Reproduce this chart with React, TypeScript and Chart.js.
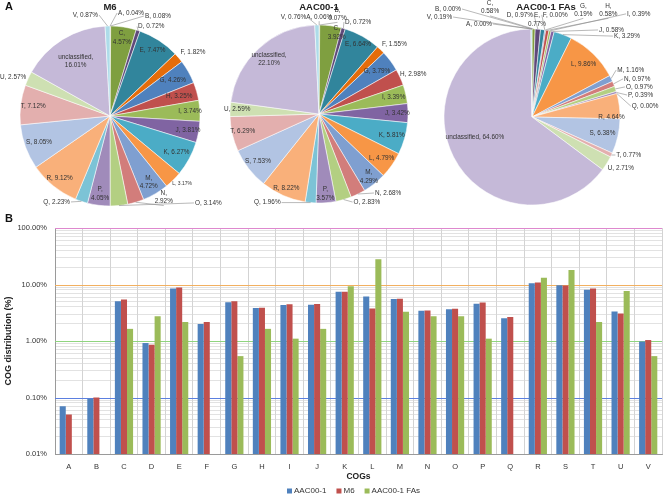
import React, { useEffect, useRef } from 'react';
import { Chart, registerables } from 'chart.js';

Chart.register(...registerables);

const FONT = '"Liberation Sans", Arial, sans-serif';

// ---------- Data ----------
const pieLabels = ['A','B','C','D','E','F','G','H','I','J','K','L','M','N','O','P','Q','R','S','T','U','unclassified','V'];
const m6Pie = [0.04,0.08,4.57,0.72,7.47,1.82,4.26,3.25,3.74,3.81,6.27,3.17,4.72,2.92,3.14,4.05,2.23,9.12,8.05,7.12,2.57,16.01,0.87];
const aacPie = [0.06,0.07,3.92,0.72,6.64,1.55,3.79,2.98,3.39,3.42,5.81,4.79,4.29,2.68,2.83,3.57,1.96,8.22,7.53,6.29,2.59,22.10,0.76];
const fasPie = [0.00,0.00,0.58,0.97,0.77,0.00,0.19,0.58,0.39,0.58,3.29,9.86,1.16,0.97,0.97,0.39,0.00,4.64,6.38,0.77,2.71,64.60,0.19];

const cogCategories = ['A','B','C','D','E','F','G','H','I','J','K','L','M','N','O','P','Q','R','S','T','U','V'];
const aacBar = [0.07,0.095,5.03,0.92,8.52,1.99,4.87,3.83,4.35,4.39,7.46,6.15,5.51,3.44,3.63,4.58,2.52,10.55,9.67,8.07,3.32,0.98];
const m6Bar = [0.05,0.10,5.44,0.86,8.89,2.17,5.07,3.87,4.45,4.54,7.47,3.77,5.62,3.48,3.74,4.82,2.66,10.86,9.58,8.48,3.06,1.04];
const fasBar = [null,null,1.64,2.74,2.18,null,0.54,1.64,1.10,1.64,9.29,27.85,3.28,2.74,2.74,1.10,null,13.11,18.02,2.18,7.66,0.54];
const yMajorTicks = [0.01, 0.1, 1, 10, 100];
const seriesNames = ['AAC00-1', 'M6', 'AAC00-1 FAs'];

// ---------- Styles ----------
const pieColors = [
  '#3A6199','#943C3A','#7F9F40','#5F497A','#31859C','#E46C0A',
  '#4F81BD','#C0504D','#9BBB59','#8064A2','#4BACC6','#F79646',
  '#7F9FD0','#D27D7B','#B3CF82','#A08BBA','#7CC3D6','#F9B07A',
  '#B2C4E3','#E3AFAE','#CEE0B2','#C5B9D8','#ADDCE9'
];
const seriesColors = ['#4F81BD', '#C0504D', '#9BBB59'];
const majorGridColors = ['#A0A0A0', '#5B7FE0', '#8FD47F', '#F2B060', '#DE88CE'];

// label layout: [radiusFactor, dx, dy, align, leader, twoLines, fontSize]
const m6Specs = [
  [1, 8, -13, 'l', true], [1, 34.5, -10, 'l', true], [0.88, 0, 0, 'c', false, true], [1, 0, -4, 'l', true],
  [0.87, 0, 0, 'c', false], [1, 2, -5, 'l', false], [0.8, 0, 0, 'c', false], [0.8, 0, 0, 'c', false],
  [0.89, 0, 0, 'c', false], [0.88, 0, 0, 'c', false], [0.84, 0, 0, 'c', false], [1, -1, 4, 'l', false, false, 5],
  [0.85, 0, 0, 'c', false, true], [1, 28, -5, 'c', true, true], [1, 76, -2.6, 'l', true], [0.87, 0, 0, 'c', false, true],
  [1, -11.4, 0.6, 'r', true], [0.89, 0, 0, 'c', false], [0.84, 0, 0, 'c', false], [0.86, 0, 0, 'c', false],
  [1, -2, -1.5, 'r', false], [0.72, 0, 0, 'c', false, true], [1, -9.5, -11, 'r', true]
];
const aacSpecs = [
  [1, 0, -8, 'c', true], [1, 18, -11, 'c', true, true], [0.92, 7, 0, 'c', false, true], [1, 1.6, -6.4, 'l', true],
  [0.9, 0, 0, 'c', false], [1, 1.3, -6, 'l', false], [0.81, 0, 0, 'c', false], [1, 0, -3.4, 'l', false],
  [0.86, 0, 0, 'c', false], [0.88, 0, 0, 'c', false], [0.85, 0, 0, 'c', false], [0.86, 0, 0, 'c', false],
  [0.9, 0, 0, 'c', false, true], [1, 17, -1, 'l', true], [1, 10, 2.5, 'l', true], [0.9, 0, 0, 'c', false, true],
  [1, -30, 0, 'r', true], [0.91, 0, 0, 'c', false], [0.87, 0, 0, 'c', false], [0.88, 0, 0, 'c', false],
  [0.92, 0, 0, 'c', false], [0.83, 0, 0, 'c', false, true], [1, -10.7, -8, 'r', true]
];
const fasSpecs = [
  [1, -40, -5, 'r', true], [1, -71, -20, 'r', true], [1, -43.6, -21.5, 'c', true, true], [1, -4.9, -14, 'r', true],
  [1, -5.7, -10, 'c', false, true], [1, -2, -15, 'l', true], [1, 38, -20, 'c', true, true], [1, 61, -20.4, 'c', true, true],
  [1, 77, -17, 'l', true], [1, 46.4, -1.5, 'l', true], [1, 51, 1.5, 'l', true], [0.84, 0, 0, 'c', false],
  [1, 6, -8.4, 'l', true], [1, 10.5, -5, 'l', true], [1, 10.6, -2, 'l', true], [1, 11.5, 2.5, 'l', true],
  [1, 15, 12.6, 'l', true], [0.91, 0, 10, 'c', false], [0.82, 0, 0, 'c', false], [1, 5, 0, 'l', true],
  [1, 1, 4.6, 'l', false], [0.69, -3, -7.6, 'c', false], [1, -79.4, -12, 'r', true]
];

const W = 666;
const PIE_H = 230;

function PieCanvas({ title, values, specs, cx, cy, r, titleX }: any) {
  const ref = useRef<HTMLCanvasElement>(null);
  useEffect(() => {
    const labelPlugin = {
      id: 'pieLabels',
      afterDatasetsDraw(chart: any) {
        const ctx = chart.ctx;
        const meta = chart.getDatasetMeta(0);
        ctx.save();
        ctx.fillStyle = '#333';
        ctx.strokeStyle = '#8a8a8a';
        ctx.lineWidth = 0.6;
        meta.data.forEach((el: any, i: number) => {
          const s = specs[i];
          if (!s) return;
          const [f, dx, dy, al, leader, two, size] = s;
          const p = el.getProps(['x', 'y', 'startAngle', 'endAngle', 'outerRadius'], true);
          const mid = (p.startAngle + p.endAngle) / 2;
          const ex = p.x + Math.cos(mid) * p.outerRadius;
          const ey = p.y + Math.sin(mid) * p.outerRadius;
          const ax = p.x + Math.cos(mid) * p.outerRadius * f + dx;
          const ay = p.y + Math.sin(mid) * p.outerRadius * f + dy;
          const val = values[i].toFixed(2) + '%';
          const lines = two ? [pieLabels[i] + ',', val] : [pieLabels[i] + ', ' + val];
          const fs = size || 6.4;
          const lh = fs * 1.3;
          const h = lines.length * lh;
          if (leader) {
            let lx = ax, ly = ay;
            if (al === 'l') lx = ax - 1;
            else if (al === 'r') lx = ax + 1;
            else ly = ay + h / 2;
            ctx.beginPath();
            ctx.moveTo(ex, ey);
            ctx.lineTo(lx, ly);
            ctx.stroke();
          }
          ctx.font = `${fs}px ${FONT}`;
          ctx.textAlign = al === 'l' ? 'left' : al === 'r' ? 'right' : 'center';
          ctx.textBaseline = 'middle';
          lines.forEach((t: string, k: number) => ctx.fillText(t, ax, ay - h / 2 + lh * (k + 0.5)));
        });
        ctx.font = `bold 9.5px ${FONT}`;
        ctx.fillStyle = '#222';
        ctx.textAlign = 'center';
        ctx.textBaseline = 'middle';
        ctx.fillText(title, titleX, 7);
        ctx.restore();
      }
    };
    const chart = new Chart(ref.current as HTMLCanvasElement, {
      type: 'pie',
      data: {
        labels: pieLabels,
        datasets: [{
          data: values,
          backgroundColor: pieColors,
          borderColor: 'rgba(255,255,255,0.75)',
          borderWidth: 0.7,
          radius: r,
        } as any],
      },
      options: {
        responsive: false,
        animation: false,
        layout: { padding: { left: cx - 100, right: W - cx - 100, top: cy - 100, bottom: PIE_H - cy - 100 } },
        plugins: { legend: { display: false }, tooltip: { enabled: false } },
      } as any,
      plugins: [labelPlugin],
    });
    return () => chart.destroy();
  }, []);
  return <canvas ref={ref} width={W} height={PIE_H} style={{ position: 'absolute', left: 0, top: 0 }} />;
}

function isMajor(v: number) {
  const l = Math.log10(v);
  return Math.abs(l - Math.round(l)) < 1e-6;
}

function BarCanvas() {
  const ref = useRef<HTMLCanvasElement>(null);
  useEffect(() => {
    const tickValues: number[] = [];
    for (let e = -2; e <= 1; e++) {
      for (let m = 1; m <= 9; m++) tickValues.push(m * Math.pow(10, e));
    }
    tickValues.push(yMajorTicks[yMajorTicks.length - 1]);
    const majorLines = {
      id: 'majorLines',
      beforeDatasetsDraw(chart: any) {
        const ctx = chart.ctx;
        const a = chart.chartArea;
        const ys = chart.scales.y;
        ctx.save();
        ctx.lineWidth = 1;
        yMajorTicks.forEach((t, i) => {
          if (i === 0) return;
          const py = Math.round(ys.getPixelForValue(t)) + 0.5;
          ctx.strokeStyle = majorGridColors[i];
          ctx.beginPath();
          ctx.moveTo(a.left, py);
          ctx.lineTo(a.right, py);
          ctx.stroke();
        });
        ctx.restore();
      }
    };
    const deco = {
      id: 'deco',
      afterDraw(chart: any) {
        const ctx = chart.ctx;
        const a = chart.chartArea;
        ctx.save();
        ctx.fillStyle = '#111';
        ctx.textBaseline = 'middle';
        ctx.textAlign = 'left';
        ctx.font = `bold 11px ${FONT}`;
        ctx.fillText('A', 5, 7);
        ctx.fillText('B', 5, 219);
        // y title
        ctx.save();
        ctx.translate(9, (a.top + a.bottom) / 2);
        ctx.rotate(-Math.PI / 2);
        ctx.textAlign = 'center';
        ctx.font = `bold 9px ${FONT}`;
        ctx.fillStyle = '#222';
        ctx.fillText('COG distribution (%)', 0, 0);
        ctx.restore();
        // x title
        ctx.textAlign = 'center';
        ctx.font = `bold 8.5px ${FONT}`;
        ctx.fillStyle = '#222';
        ctx.fillText('COGs', (a.left + a.right) / 2, 477);
        // legend
        ctx.font = `8px ${FONT}`;
        ctx.textAlign = 'left';
        let x = 287;
        const y = 491;
        seriesNames.forEach((n, i) => {
          ctx.fillStyle = seriesColors[i];
          ctx.fillRect(x, y - 2.5, 5, 5);
          ctx.fillStyle = '#333';
          ctx.fillText(n, x + 7, y);
          x += 7 + ctx.measureText(n).width + 10;
        });
        ctx.restore();
      }
    };
    const chart = new Chart(ref.current as HTMLCanvasElement, {
      type: 'bar',
      data: {
        labels: cogCategories,
        datasets: [
          { label: seriesNames[0], data: aacBar, backgroundColor: seriesColors[0] },
          { label: seriesNames[1], data: m6Bar, backgroundColor: seriesColors[1] },
          { label: seriesNames[2], data: fasBar, backgroundColor: seriesColors[2] },
        ] as any,
      },
      options: {
        responsive: false,
        animation: false,
        layout: { padding: { top: 228, right: 4, left: 0, bottom: 0 } },
        datasets: { bar: { categoryPercentage: 0.66, barPercentage: 1 } },
        scales: {
          x: {
            grid: { color: '#C8C8C8', drawTicks: false, offset: true, lineWidth: 0.8 },
            border: { color: '#9A9A9A' },
            ticks: { font: { size: 7.5, family: FONT }, color: '#333', padding: 8 },
            afterFit: (s: any) => { s.height = 44; },
          },
          y: {
            type: 'logarithmic',
            min: 0.01,
            max: 100,
            afterBuildTicks: (s: any) => { s.ticks = tickValues.map(v => ({ value: v })); },
            ticks: {
              autoSkip: false,
              font: { size: 7.5, family: FONT },
              color: '#333',
              padding: 8,
              callback: (v: any) => (isMajor(Number(v)) ? Number(v).toFixed(2) + '%' : ''),
            },
            grid: {
              drawTicks: false,
              lineWidth: 0.7,
              color: (c: any) => (c.tick && isMajor(c.tick.value) ? 'rgba(0,0,0,0)' : '#D6D6D6'),
            },
            border: { color: '#9A9A9A' },
            afterFit: (s: any) => { s.width = 55; },
          },
        },
        plugins: { legend: { display: false }, tooltip: { enabled: false } },
      } as any,
      plugins: [majorLines, deco],
    });
    return () => chart.destroy();
  }, []);
  return <canvas ref={ref} width={W} height={498} style={{ position: 'absolute', left: 0, top: 0 }} />;
}

export default function App() {
  return (
    <div style={{ position: 'absolute', left: 0, top: 0, width: W, height: 498, background: '#fff', overflow: 'hidden' }}>
      <BarCanvas />
      <PieCanvas title="M6" values={m6Pie} specs={m6Specs} cx={110} cy={116} r={90} titleX={110} />
      <PieCanvas title="AAC00-1" values={aacPie} specs={aacSpecs} cx={319} cy={114} r={89} titleX={319} />
      <PieCanvas title="AAC00-1 FAs" values={fasPie} specs={fasSpecs} cx={532} cy={117} r={88} titleX={546} />
    </div>
  );
}
